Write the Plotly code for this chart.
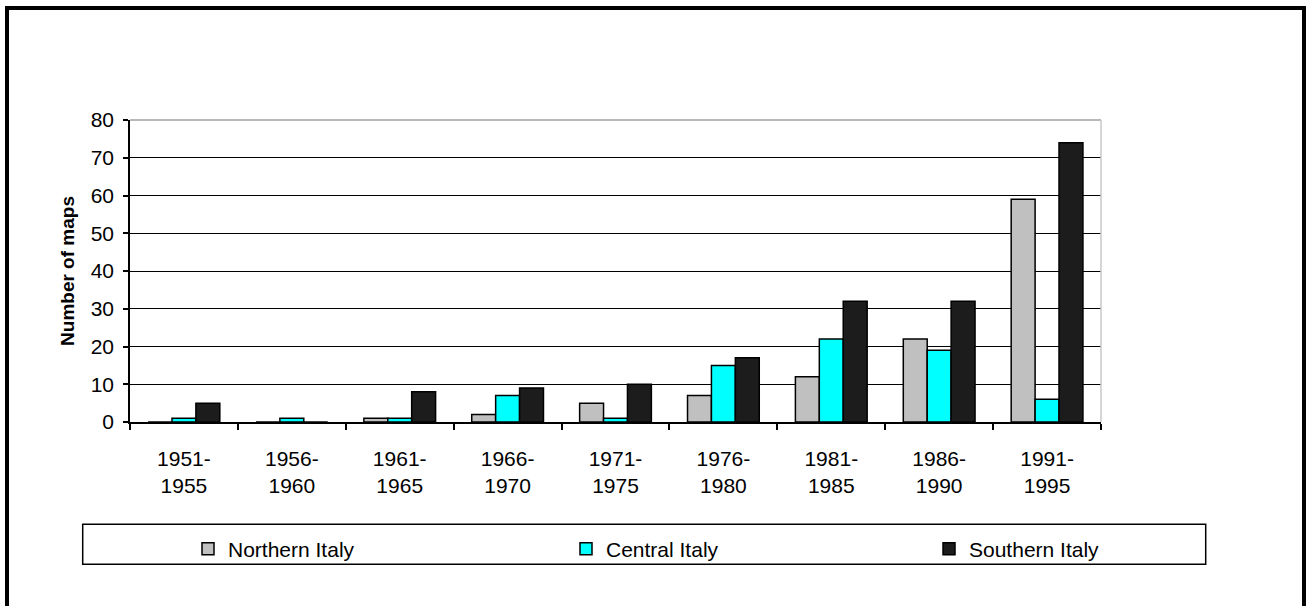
import plotly.graph_objects as go

periods = ["1951-<br>1955", "1956-<br>1960", "1961-<br>1965", "1966-<br>1970", "1971-<br>1975",
           "1976-<br>1980", "1981-<br>1985", "1986-<br>1990", "1991-<br>1995"]
northern = [0, 0, 1, 2, 5, 7, 12, 22, 59]
central = [1, 1, 1, 7, 1, 15, 22, 19, 6]
southern = [5, 0, 8, 9, 10, 17, 32, 32, 74]
y_ticks = [0, 10, 20, 30, 40, 50, 60, 70, 80]

W, H = 1309, 606
L, R, T, B = 130, 1101, 120, 422  # plot area in page pixels


def px(x):
    return (x - L) / (R - L)


def py(y):
    return (B - y) / (B - T)


FONT = "Liberation Sans, Arial, sans-serif"

fig = go.Figure()
fig.add_trace(go.Bar(name="Northern Italy", x=periods, y=northern, legend="legend",
                     marker=dict(color="#c0c0c0", line=dict(color="black", width=1.5))))
fig.add_trace(go.Bar(name="Central Italy", x=periods, y=central, legend="legend2",
                     marker=dict(color="#00ffff", line=dict(color="black", width=1.5))))
fig.add_trace(go.Bar(name="Southern Italy", x=periods, y=southern, legend="legend3",
                     marker=dict(color="#1c1c1c", line=dict(color="black", width=1.5))))

shapes = [
    # outer frame
    dict(type="rect", xref="paper", yref="paper", x0=px(7), x1=px(1304), y0=py(640), y1=py(8),
         line=dict(color="black", width=4), layer="below"),
    # legend box
    dict(type="rect", xref="paper", yref="paper", x0=px(82.7), x1=px(1205.7), y0=py(564.3), y1=py(524.3),
         line=dict(color="black", width=1.5), layer="below"),
    # plot area top and right border (gray)
    dict(type="line", xref="paper", yref="paper", x0=0, x1=1, y0=1, y1=1,
         line=dict(color="#a0a0a0", width=1.5), layer="above"),
    dict(type="line", xref="paper", yref="paper", x0=1, x1=1, y0=0, y1=1,
         line=dict(color="#c8c8c8", width=1.5), layer="above"),
]

leg_common = dict(orientation="h", xanchor="left", yanchor="middle", bgcolor="rgba(0,0,0,0)",
                  font=dict(family=FONT, size=21, color="black"), itemwidth=30)

fig.update_layout(
    width=W, height=H,
    margin=dict(l=L, r=W - R, t=T, b=H - B, pad=0),
    paper_bgcolor="white", plot_bgcolor="white",
    barmode="group", bargap=0.335, bargroupgap=0,
    font=dict(family=FONT, size=21, color="black"),
    shapes=shapes,
    showlegend=True,
    legend=dict(x=px(188), y=py(549), **leg_common),
    legend2=dict(x=px(566), y=py(549), **leg_common),
    legend3=dict(x=px(929), y=py(549), **leg_common),
)

fig.update_xaxes(
    type="category", showline=True, linecolor="black", linewidth=1.5,
    ticks="outside", tickson="boundaries", ticklen=6, tickwidth=1.5, tickcolor="black",
    showgrid=False, tickfont=dict(family=FONT, size=21), ticklabelstandoff=17,
)
fig.update_yaxes(
    range=[0, 80], tickvals=y_ticks, showline=True, linecolor="black", linewidth=1.5,
    ticks="outside", ticklen=5, tickwidth=1.5, tickcolor="black",
    showgrid=True, gridcolor="black", gridwidth=1.2, zeroline=False,
    tickfont=dict(family=FONT, size=21), ticklabelstandoff=5,
    title=dict(text="<b>Number of maps</b>", font=dict(family=FONT, size=19), standoff=11),
)

fig.write_html("out.html", config={"displayModeBar": False},
               post_script="document.body.style.margin='0';document.body.style.overflow='hidden';")
